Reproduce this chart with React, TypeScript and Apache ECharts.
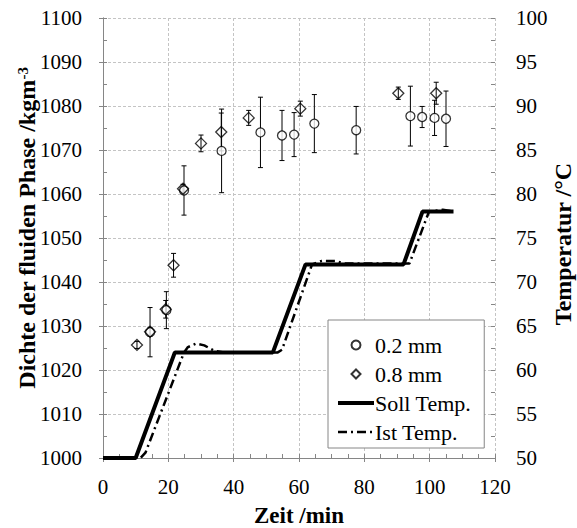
import React, { useEffect, useRef } from 'react';
import * as echarts from 'echarts';

// ---- data ----
const timeRange = [0, 120];
const densityRange = [1000, 1100];
const tempRange = [50, 100];

const circleTime = [14.4, 19.4, 24.8, 36.3, 48.2, 54.8, 58.5, 64.7, 77.5, 94.1, 97.7, 101.5, 105.0];
const circleDensity = [1028.6, 1033.6, 1060.8, 1069.8, 1074.0, 1073.3, 1073.5, 1076.0, 1074.5, 1077.7, 1077.5, 1077.3, 1077.1];
const circleError = [5.6, 4.2, 5.6, 9.5, 8.0, 5.7, 5.0, 6.6, 5.4, 6.8, 2.4, 4.0, 6.3];

const diamondTime = [10.4, 14.4, 19.2, 21.6, 24.5, 30.0, 36.2, 44.6, 60.4, 90.4, 102.0];
const diamondDensity = [1025.7, 1028.7, 1033.8, 1043.8, 1061.2, 1071.5, 1074.1, 1077.3, 1079.4, 1082.9, 1082.9];
const diamondError = [0.8, 1.0, 2.0, 2.7, 1.0, 1.9, 4.3, 1.7, 1.7, 1.4, 2.5];

const sollTime = [0, 10, 22, 52, 62, 92, 97.8, 107.3];
const sollTemp = [50, 50, 62, 62, 72, 72, 78, 78];

const istTime = [0, 11.5, 13, 24.8, 26, 28.5, 31, 34, 37, 53.5, 54.8, 64, 67, 71, 74, 93.8, 99.8, 104, 107.3];
const istTemp = [50, 50, 50.6, 62, 62.6, 63, 62.8, 62.2, 62, 62, 62.3, 72, 72.4, 72.4, 72.1, 72.1, 78, 78.2, 78];

const legendNames = ['0.2 mm', '0.8 mm', 'Soll Temp.', 'Ist Temp.'];

const FONT = '"Liberation Serif", "Times New Roman", serif';
const AXIS_GRAY = '#868686';
const GRID_GRAY = '#c4c4c4';
const DIAMOND_ICON = 'path://M5,0 L10,5 L5,10 L0,5 Z';
const IST_DASH = [9, 4, 2, 4];

function errorSeries(times: number[], values: number[], errors: number[]) {
  return {
    type: 'custom',
    xAxisIndex: 0,
    yAxisIndex: 0,
    silent: true,
    encode: { x: 0, y: [1, 2] },
    data: times.map((t, i) => [t, values[i] - errors[i], values[i] + errors[i]]),
    renderItem: (_params: any, api: any) => {
      const lo = api.coord([api.value(0), api.value(1)]);
      const hi = api.coord([api.value(0), api.value(2)]);
      const w = 2.5;
      const style = { stroke: '#000', lineWidth: 1 };
      return {
        type: 'group',
        children: [
          { type: 'line', shape: { x1: lo[0], y1: lo[1], x2: hi[0], y2: hi[1] }, style },
          { type: 'line', shape: { x1: lo[0] - w, y1: lo[1], x2: lo[0] + w, y2: lo[1] }, style },
          { type: 'line', shape: { x1: hi[0] - w, y1: hi[1], x2: hi[0] + w, y2: hi[1] }, style },
        ],
      };
    },
  };
}

const labelStyle = { fontFamily: FONT, fontSize: 21, color: '#000', formatter: (v: number) => String(v) };

export default function App() {
  const ref = useRef<HTMLDivElement>(null);
  useEffect(() => {
    if (!ref.current) return;
    const chart = echarts.init(ref.current, undefined, { renderer: 'svg' });
    const tickOut = { show: true, length: 4, lineStyle: { color: AXIS_GRAY, width: 1 } };
    const tickIn = { show: true, inside: true, length: 4, lineStyle: { color: AXIS_GRAY, width: 1 } };
    const minorIn = { show: true, splitNumber: 2, length: 4, lineStyle: { color: AXIS_GRAY, width: 1 } };
    const option: any = {
      animation: false,
      backgroundColor: '#fff',
      textStyle: { fontFamily: FONT },
      grid: { left: 103, right: 82, top: 18, bottom: 70, containLabel: false },
      xAxis: [
        {
          type: 'value', min: timeRange[0], max: timeRange[1], interval: 20, position: 'bottom',
          axisLine: { show: true, lineStyle: { color: AXIS_GRAY, width: 1 } },
          axisTick: tickOut,
          axisLabel: { ...labelStyle, margin: 18 },
          splitLine: { show: true, lineStyle: { color: GRID_GRAY, type: [3, 2], width: 1 } },
        },
        {
          type: 'value', min: timeRange[0], max: timeRange[1], interval: 20, position: 'bottom',
          axisLine: { show: false },
          axisTick: tickIn,
          minorTick: { ...minorIn, splitNumber: 4 },
          axisLabel: { show: false },
          splitLine: { show: false },
        },
      ],
      yAxis: [
        {
          type: 'value', min: densityRange[0], max: densityRange[1], interval: 10, position: 'left',
          axisLine: { show: true, lineStyle: { color: AXIS_GRAY, width: 1 } },
          axisTick: tickOut,
          axisLabel: { ...labelStyle, margin: 21 },
          splitLine: { show: true, lineStyle: { color: GRID_GRAY, type: [3, 2], width: 1 } },
        },
        {
          type: 'value', min: tempRange[0], max: tempRange[1], interval: 5, position: 'right',
          axisLine: { show: true, lineStyle: { color: AXIS_GRAY, width: 1 } },
          axisTick: tickOut,
          axisLabel: { ...labelStyle, margin: 21 },
          splitLine: { show: false },
        },
        {
          type: 'value', min: densityRange[0], max: densityRange[1], interval: 10, position: 'left',
          axisLine: { show: false }, axisTick: tickIn, minorTick: minorIn,
          axisLabel: { show: false }, splitLine: { show: false },
        },
        {
          type: 'value', min: tempRange[0], max: tempRange[1], interval: 5, position: 'right',
          axisLine: { show: false }, axisTick: tickIn, minorTick: minorIn,
          axisLabel: { show: false }, splitLine: { show: false },
        },
      ],
      legend: {
        orient: 'vertical', left: 328, top: 320,
        data: [
          { name: legendNames[0], icon: 'circle' },
          { name: legendNames[1], icon: DIAMOND_ICON },
          { name: legendNames[2], lineStyle: { color: '#000', width: 4 } },
          { name: legendNames[3], lineStyle: { color: '#000', width: 2.5, type: IST_DASH } },
        ],
        symbolKeepAspect: true,
        itemWidth: 36, itemHeight: 9, itemGap: 7,
        padding: [14, 13, 5, 8],
        backgroundColor: '#fff', borderColor: AXIS_GRAY, borderWidth: 1,
        textStyle: { fontFamily: FONT, fontSize: 22, color: '#000', padding: [0, 0, 0, -4] },
      },
      series: [
        errorSeries(circleTime, circleDensity, circleError),
        {
          name: legendNames[0], type: 'scatter', xAxisIndex: 0, yAxisIndex: 0,
          symbol: 'circle', symbolSize: 9,
          itemStyle: { color: '#fff', borderColor: '#000', borderWidth: 1.3 },
          data: circleTime.map((t, i) => [t, circleDensity[i]]),
        },
        errorSeries(diamondTime, diamondDensity, diamondError),
        {
          name: legendNames[1], type: 'scatter', xAxisIndex: 0, yAxisIndex: 0,
          symbol: 'diamond', symbolSize: 11,
          itemStyle: { color: 'rgba(255,255,255,0)', borderColor: '#000', borderWidth: 1.3 },
          data: diamondTime.map((t, i) => [t, diamondDensity[i]]),
        },
        {
          name: legendNames[3], type: 'line', xAxisIndex: 0, yAxisIndex: 1,
          symbol: 'none', showSymbol: false,
          itemStyle: { color: 'rgba(0,0,0,0)', borderWidth: 0 },
          lineStyle: { color: '#000', width: 2.5, type: IST_DASH },
          data: istTime.map((t, i) => [t, istTemp[i]]),
        },
        {
          name: legendNames[2], type: 'line', xAxisIndex: 0, yAxisIndex: 1,
          symbol: 'none', showSymbol: false,
          itemStyle: { color: 'rgba(0,0,0,0)', borderWidth: 0 },
          lineStyle: { color: '#000', width: 4 },
          data: sollTime.map((t, i) => [t, sollTemp[i]]),
        },
      ],
      graphic: [
        {
          type: 'text', x: 27, y: 228, rotation: Math.PI / 2,
          style: {
            text: '{m|Dichte der fluiden Phase /kgm}{s|-3}',
            align: 'center', verticalAlign: 'middle',
            rich: {
              m: { fontFamily: FONT, fontSize: 24, fontWeight: 'bold', fill: '#000', color: '#000' },
              s: { fontFamily: FONT, fontSize: 15, fontWeight: 'bold', fill: '#000', color: '#000', verticalAlign: 'top' },
            },
          },
        },
        {
          type: 'text', x: 563, y: 244, rotation: Math.PI / 2,
          style: {
            text: 'Temperatur /°C', fontFamily: FONT, fontSize: 24, fontWeight: 'bold', fill: '#000',
            align: 'center', verticalAlign: 'middle',
          },
        },
        {
          type: 'text', x: 299, y: 515,
          style: {
            text: 'Zeit /min', fontFamily: FONT, fontSize: 23, fontWeight: 'bold', fill: '#000',
            align: 'center', verticalAlign: 'middle',
          },
        },
      ],
    };
    chart.setOption(option);
    return () => chart.dispose();
  }, []);
  return <div ref={ref} style={{ position: 'fixed', left: 0, top: 0, width: 577, height: 528 }} />;
}
